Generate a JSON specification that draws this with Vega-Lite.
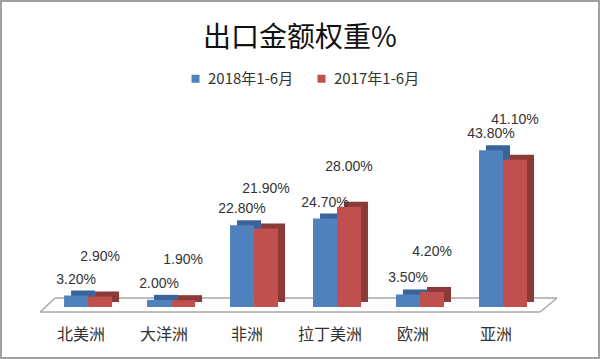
{
  "$schema": "https://vega.github.io/schema/vega-lite/v6.json",
  "width": 598,
  "height": 357,
  "padding": 1,
  "autosize": {"type": "none"},
  "background": "white",
  "config": {"view": {"stroke": "#a0a0a0", "strokeWidth": 2}, "font": "Noto Sans CJK SC"},
  "title": {"text": "出口金额权重%", "fontSize": 28, "fontWeight": "normal", "font": "Noto Sans CJK SC", "color": "#111111", "offset": -52, "anchor": "middle"},
  "data": {"values": [
    {"region": "北美洲", "year": "2018年1-6月", "value": 3.2, "label": "3.20%"},
    {"region": "北美洲", "year": "2017年1-6月", "value": 2.9, "label": "2.90%"},
    {"region": "大洋洲", "year": "2018年1-6月", "value": 2.0, "label": "2.00%"},
    {"region": "大洋洲", "year": "2017年1-6月", "value": 1.9, "label": "1.90%"},
    {"region": "非洲", "year": "2018年1-6月", "value": 22.8, "label": "22.80%"},
    {"region": "非洲", "year": "2017年1-6月", "value": 21.9, "label": "21.90%"},
    {"region": "拉丁美洲", "year": "2018年1-6月", "value": 24.7, "label": "24.70%"},
    {"region": "拉丁美洲", "year": "2017年1-6月", "value": 28.0, "label": "28.00%"},
    {"region": "欧洲", "year": "2018年1-6月", "value": 3.5, "label": "3.50%"},
    {"region": "欧洲", "year": "2017年1-6月", "value": 4.2, "label": "4.20%"},
    {"region": "亚洲", "year": "2018年1-6月", "value": 43.8, "label": "43.80%"},
    {"region": "亚洲", "year": "2017年1-6月", "value": 41.1, "label": "41.10%"}
  ]},
  "encoding": {
    "x": {"field": "region", "type": "nominal", "sort": ["北美洲", "大洋洲", "非洲", "拉丁美洲", "欧洲", "亚洲"],
      "scale": {"paddingInner": 0.4217, "paddingOuter": 0.8137, "align": 0.467},
      "axis": {"title": null, "orient": "bottom", "offset": -40, "domain": false, "ticks": false, "grid": false, "labelPadding": 8, "labelFontSize": 16, "labelFont": "Noto Sans CJK SC", "labelColor": "#333333", "labelAngle": 0, "labelOffset": -7}},
    "y": {"field": "value", "type": "quantitative", "scale": {"domain": [-14.25, 85.47], "nice": false, "zero": false}, "axis": null}
  },
  "layer": [
    {"transform": [{"filter": "datum.region === '北美洲' && datum.year === '2018年1-6月'"}],
     "mark": {"type": "rule", "color": "#a8a8a8", "strokeWidth": 1.5, "xOffset": -48, "x2Offset": 37, "yOffset": 5},
     "encoding": {"x": {"datum": "北美洲", "bandPosition": 0.5}, "x2": {"datum": "亚洲"}, "y": {"datum": 0}}},
    {"transform": [{"filter": "datum.region === '北美洲' && datum.year === '2018年1-6月'"}],
     "mark": {"type": "rule", "color": "#a8a8a8", "strokeWidth": 1.5, "xOffset": -33, "x2Offset": 54, "yOffset": -9},
     "encoding": {"x": {"datum": "北美洲", "bandPosition": 0.5}, "x2": {"datum": "亚洲"}, "y": {"datum": 0}}},
    {"transform": [{"filter": "datum.region === '北美洲' && datum.year === '2018年1-6月'"}],
     "mark": {"type": "rule", "color": "#a8a8a8", "strokeWidth": 1.5, "xOffset": -48, "x2Offset": -33, "yOffset": 5, "y2Offset": -9},
     "encoding": {"x": {"datum": "北美洲", "bandPosition": 0.5}, "x2": {"datum": "北美洲"}, "y": {"datum": 0}, "y2": {"datum": 0}}},
    {"transform": [{"filter": "datum.region === '北美洲' && datum.year === '2018年1-6月'"}],
     "mark": {"type": "rule", "color": "#a8a8a8", "strokeWidth": 1.5, "xOffset": 37, "x2Offset": 54, "yOffset": 5, "y2Offset": -9},
     "encoding": {"x": {"datum": "亚洲", "bandPosition": 0.5}, "x2": {"datum": "亚洲"}, "y": {"datum": 0}, "y2": {"datum": 0}}},
    {"transform": [{"filter": "datum.year === '2018年1-6月'"}],
     "mark": {"type": "bar", "width": {"band": 0.5}, "xOffset": -5, "yOffset": -5, "color": "#3A639B"}},
    {"transform": [{"filter": "datum.year === '2017年1-6月'"}],
     "mark": {"type": "bar", "width": {"band": 0.5}, "xOffset": 19, "yOffset": -5, "color": "#8C3A37"}},
    {"transform": [{"filter": "datum.year === '2018年1-6月'"}],
     "mark": {"type": "bar", "width": {"band": 0.5}, "xOffset": -12},
     "encoding": {"color": {"field": "year", "type": "nominal",
         "scale": {"domain": ["2018年1-6月", "2017年1-6月"], "range": ["#4F81BD", "#C0504D"]},
         "legend": {"orient": "none", "legendX": 187, "legendY": 70, "direction": "horizontal", "title": null, "symbolType": "square", "symbolSize": 64, "symbolStrokeWidth": 0, "labelFontSize": 15, "labelFont": "Noto Sans CJK SC", "labelColor": "#333333", "columnPadding": 20, "labelOffset": 5, "padding": 0}}}},
    {"transform": [{"filter": "datum.year === '2017年1-6月'"}],
     "mark": {"type": "bar", "width": {"band": 0.5}, "xOffset": 12},
     "encoding": {"color": {"field": "year", "type": "nominal"}}},
    {"transform": [{"filter": "datum.year === '2018年1-6月'"}],
     "mark": {"type": "text", "xOffset": -12, "dy": -16, "fontSize": 14, "font": "Liberation Sans", "color": "#333333", "baseline": "middle"},
     "encoding": {"text": {"field": "label"}}},
    {"transform": [{"filter": "datum.year === '2017年1-6月'"}],
     "mark": {"type": "text", "xOffset": 12, "dy": -40, "fontSize": 14, "font": "Liberation Sans", "color": "#333333", "baseline": "middle"},
     "encoding": {"text": {"field": "label"}}}
  ]
}
